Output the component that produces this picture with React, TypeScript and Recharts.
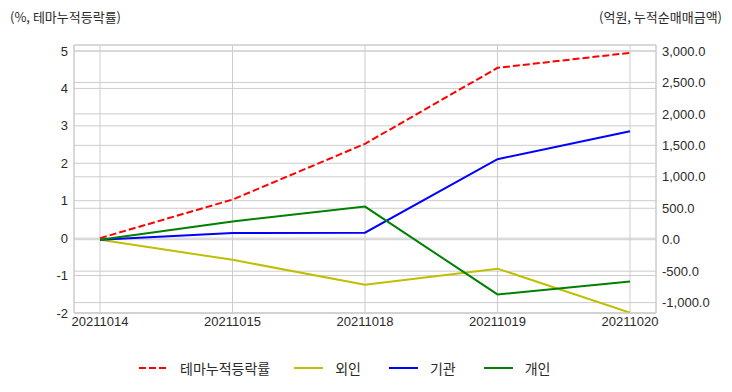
import React from "react";
import { LineChart, Line, XAxis, YAxis, CartesianGrid, Legend } from "recharts";

const dates = ["20211014", "20211015", "20211018", "20211019", "20211020"];
const themeRate = [0, 1.03, 2.52, 4.55, 4.95];
const foreign = [0, -320, -715, -460, -1160];
const institution = [0, 105, 112, 1280, 1725];
const individual = [0, 290, 526, -870, -665];

const leftTicks = [-2, -1, 0, 1, 2, 3, 4, 5];
const rightTicks = [-1000, -500, 0, 500, 1000, 1500, 2000, 2500, 3000];

const seriesInfo = [
  { key: "theme", name: "테마누적등락률", color: "#ff0000", dash: "7 3", axis: "left" },
  { key: "foreign", name: "외인", color: "#bfbf00", dash: undefined, axis: "right" },
  { key: "inst", name: "기관", color: "#0000ff", dash: undefined, axis: "right" },
  { key: "indiv", name: "개인", color: "#008000", dash: undefined, axis: "right" },
];

const data = dates.map((d, i) => ({
  date: d,
  theme: themeRate[i],
  foreign: foreign[i],
  inst: institution[i],
  indiv: individual[i],
}));

const FONT = "'Liberation Sans', Arial, 'Noto Sans CJK KR', sans-serif";
const GRID = "#cccccc";
const TXT = "#2a2a2a";

const fmtRight = (v: number) =>
  v.toLocaleString("en-US", { minimumFractionDigits: 1, maximumFractionDigits: 1 });

const LegendContent = () => (
  <div
    style={{
      display: "flex",
      alignItems: "center",
      height: 30,
      paddingLeft: 139,
      fontSize: 14,
      color: TXT,
    }}
  >
    {seriesInfo.map((s, i) => (
      <div key={s.key} style={{ display: "flex", alignItems: "center", marginRight: i === 0 ? 24 : 28 }}>
        <svg width={29} height={4} style={{ marginRight: 12 }}>
          <line
            x1={0}
            y1={2}
            x2={29}
            y2={2}
            stroke={s.color}
            strokeWidth={2}
            strokeDasharray={s.dash}
          />
        </svg>
        <span style={{ fontFamily: "'Noto Sans CJK KR', sans-serif" }}>{s.name}</span>
      </div>
    ))}
  </div>
);

const labelStyle: React.CSSProperties = {
  position: "absolute",
  top: 8,
  fontSize: 13,
  lineHeight: "17px",
  color: TXT,
  fontFamily: "'Noto Sans CJK KR', sans-serif",
};

export default function App() {
  return (
    <div style={{ position: "absolute", left: 0, top: 0, width: 732, height: 392, background: "#fff" }}>
      <div style={{ ...labelStyle, left: 10 }}>(%, 테마누적등락률)</div>
      <div style={{ ...labelStyle, right: 10 }}>(억원, 누적순매매금액)</div>
      <LineChart
        width={732}
        height={392}
        data={data}
        margin={{ top: 45, right: 0, bottom: 0, left: 0 }}
        style={{ fontFamily: FONT }}
      >
        <CartesianGrid yAxisId="left" stroke={GRID} vertical={true} horizontal={true} />
        <CartesianGrid yAxisId="right" stroke={GRID} vertical={false} horizontal={true} />
        <XAxis
          dataKey="date"
          type="category"
          interval={0}
          padding={{ left: 26, right: 26 }}
          height={40}
          tickLine={false}
          tickSize={0}
          tickMargin={4}
          axisLine={{ stroke: GRID }}
          tick={{ fill: TXT, fontSize: 13 }}
        />
        <XAxis xAxisId="top" orientation="top" dataKey="date" height={0} tick={false} tickLine={false} axisLine={{ stroke: GRID }} />
        <YAxis
          yAxisId="left"
          orientation="left"
          width={74}
          domain={[-2, 5.16]}
          ticks={leftTicks}
          allowDataOverflow
          tickLine={false}
          tickSize={0}
          tickMargin={6}
          axisLine={{ stroke: GRID }}
          tick={{ fill: TXT, fontSize: 13 }}
        />
        <YAxis
          yAxisId="right"
          orientation="right"
          width={76}
          domain={[-1165, 3095]}
          ticks={rightTicks}
          allowDataOverflow
          tickFormatter={fmtRight}
          tickLine={false}
          tickSize={0}
          tickMargin={6}
          axisLine={{ stroke: GRID }}
          tick={{ fill: TXT, fontSize: 13 }}
        />
        <Legend verticalAlign="bottom" height={39} content={<LegendContent />} />
        {seriesInfo.map((s) => (
          <Line
            key={s.key}
            yAxisId={s.axis}
            dataKey={s.key}
            name={s.name}
            stroke={s.color}
            strokeWidth={2}
            strokeDasharray={s.dash}
            dot={false}
            activeDot={false}
            type="linear"
            isAnimationActive={false}
          />
        ))}
      </LineChart>
    </div>
  );
}
